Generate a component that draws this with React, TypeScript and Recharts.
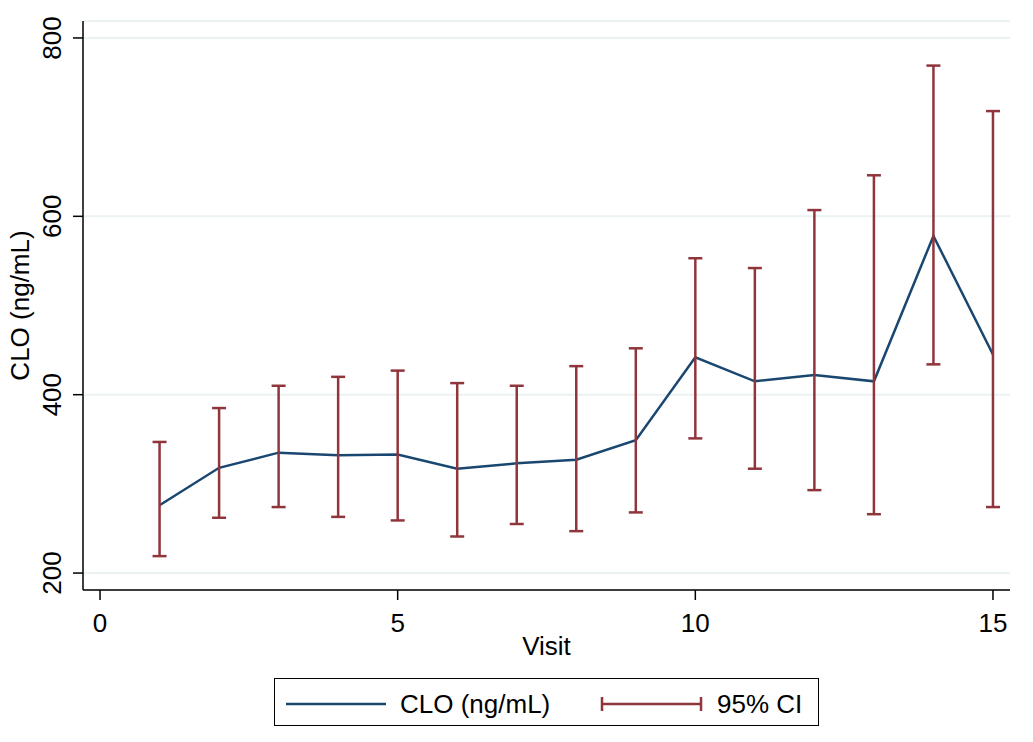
// @ts-nocheck
import React from 'react'
import { ComposedChart, Line, ErrorBar, XAxis, YAxis, CartesianGrid } from 'recharts'

const visits = [1, 2, 3, 4, 5, 6, 7, 8, 9, 10, 11, 12, 13, 14, 15]
const cloMean = [276, 318, 335, 332, 333, 317, 323, 327, 349, 442, 415, 422, 415, 578, 445]
const ciLower = [219, 262, 274, 263, 259, 241, 255, 247, 268, 351, 317, 293, 266, 434, 274]
const ciUpper = [347, 385, 410, 420, 427, 413, 410, 432, 452, 553, 542, 607, 646, 769, 718]
const xTicks = [0, 5, 10, 15]
const yTicks = [200, 400, 600, 800]

const NAVY = '#1a476f'
const MAROON = '#90353b'
const FONT = '"Liberation Sans", Arial, Helvetica, sans-serif'
const FS = 26

const data = visits.map((v, i) => ({
  visit: v,
  clo: cloMean[i],
  ci: [cloMean[i] - ciLower[i], ciUpper[i] - cloMean[i]],
}))

const XTick = ({ x, y, payload }: any) => (
  <text x={x} y={y + 30} textAnchor="middle" fontSize={FS} fill="#000" fontFamily={FONT}>
    {payload.value}
  </text>
)

const YTick = ({ x, y, payload }: any) => (
  <text transform={`translate(${x - 10}, ${y}) rotate(-90)`} textAnchor="middle" fontSize={FS} fill="#000" fontFamily={FONT}>
    {payload.value}
  </text>
)

export default function App() {
  return (
    <div style={{ position: 'absolute', left: 0, top: 0, width: 1033, height: 742, background: '#fff', fontFamily: FONT }}>
      <ComposedChart width={1033} height={742} data={data} margin={{ top: 21, right: 23, left: 0, bottom: 72 }}>
        <CartesianGrid vertical={false} stroke="#eaf2f3" strokeWidth={2} />
        <XAxis
          dataKey="visit"
          type="number"
          domain={[-0.286, 15.286]}
          allowDataOverflow
          ticks={xTicks}
          height={80}
          tickSize={10}
          stroke="#000"
          strokeWidth={1.5}
          tick={<XTick />}
          label={{ value: 'Visit', position: 'insideTop', offset: 47, fontSize: FS, fill: '#000', fontFamily: FONT }}
        />
        <YAxis
          type="number"
          domain={[181, 819]}
          allowDataOverflow
          ticks={yTicks}
          width={83}
          tickSize={10}
          stroke="#000"
          strokeWidth={1.5}
          tick={<YTick />}
          label={{ value: 'CLO (ng/mL)', angle: -90, position: 'insideLeft', offset: 20, fontSize: FS, fill: '#000', fontFamily: FONT, style: { textAnchor: 'middle' } }}
        />
        <Line dataKey="clo" stroke={NAVY} strokeWidth={2.5} dot={false} activeDot={false} isAnimationActive={false} />
        <Line dataKey="clo" stroke="none" strokeWidth={0} dot={false} activeDot={false} isAnimationActive={false}>
          <ErrorBar dataKey="ci" direction="y" width={7} stroke={MAROON} strokeWidth={2.5} isAnimationActive={false} />
        </Line>
      </ComposedChart>
      <div style={{ position: 'absolute', left: 274, top: 678, width: 543, height: 46, border: '1.5px solid #000', boxSizing: 'content-box' }}>
        <svg width={543} height={46} style={{ position: 'absolute', left: 0, top: 0 }}>
          <line x1={11} y1={25} x2={111} y2={25} stroke={NAVY} strokeWidth={2.5} />
          <text x={125} y={34} fontSize={FS} fontFamily={FONT} fill="#000">CLO (ng/mL)</text>
          <line x1={327} y1={25} x2={426} y2={25} stroke={MAROON} strokeWidth={2.5} />
          <line x1={327} y1={18} x2={327} y2={32} stroke={MAROON} strokeWidth={2.5} />
          <line x1={426} y1={18} x2={426} y2={32} stroke={MAROON} strokeWidth={2.5} />
          <text x={442} y={34} fontSize={FS} fontFamily={FONT} fill="#000">95% CI</text>
        </svg>
      </div>
    </div>
  )
}
